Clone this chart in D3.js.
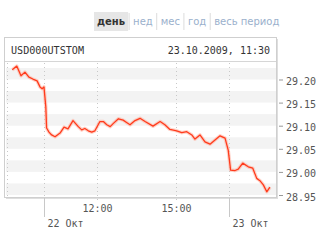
<!DOCTYPE html>
<html>
<head>
<meta charset="utf-8">
<script src="https://cdn.jsdelivr.net/npm/d3@7"></script>
<style>
body { margin: 0; background: #fff; }
svg { display: block; }
</style>
</head>
<body>
<div id="chart"></div>
<script>
// trading hours counted from the 22 Oct open (10:00)
var hours = [-1.22, -1.05, -0.89, -0.74, -0.59, -0.44, -0.28, -0.17, -0.09, -0.02,
  0.05, 0.08, 0.17, 0.27, 0.40, 0.59, 0.74, 0.89, 1.08, 1.28,
  1.41, 1.53, 1.66, 1.79, 1.91, 2.10, 2.23, 2.36, 2.49, 2.61,
  2.80, 2.98, 3.11, 3.24, 3.43, 3.62, 3.81, 4.11, 4.38, 4.56,
  4.75, 5.01, 5.20, 5.39, 5.58, 5.70, 5.89, 6.08, 6.27, 6.46,
  6.65, 6.84, 6.96, 7.05, 7.22, 7.34, 7.51, 7.72, 7.89, 8.04,
  8.16, 8.29, 8.42, 8.54];
var prices = [29.221, 29.229, 29.208, 29.216, 29.205, 29.201, 29.197, 29.184, 29.180, 29.184,
  29.141, 29.095, 29.086, 29.080, 29.076, 29.084, 29.097, 29.093, 29.111, 29.098,
  29.091, 29.094, 29.089, 29.086, 29.089, 29.109, 29.109, 29.102, 29.098, 29.105,
  29.115, 29.112, 29.107, 29.102, 29.111, 29.116, 29.109, 29.099, 29.109, 29.102,
  29.092, 29.089, 29.085, 29.087, 29.080, 29.071, 29.080, 29.065, 29.060, 29.069,
  29.078, 29.073, 29.047, 29.004, 29.003, 29.006, 29.019, 29.011, 29.008, 28.986,
  28.981, 28.972, 28.957, 28.967];

var xTickHours = [0, 2, 5, 7];
var xTickLabels = ["22 Окт", "12:00", "15:00", "23 Окт"];
var dayStart = [true, false, false, true];
var yTicks = [28.95, 29.00, 29.05, 29.10, 29.15, 29.20];
var tabs = ["день", "нед", "мес", "год", "весь период"];
var ticker = "USD000UTSTOM";
var stamp = "23.10.2009, 11:30";

var width = 320, height = 240;
var plot = {left: 6, right: 276, top: 63, bottom: 197};
var mono = "'DejaVu Sans Mono', monospace";

var svg = d3.select("#chart").append("svg")
  .attr("width", width).attr("height", height);

var xScale = d3.scaleLinear().domain([-1.458, 8.77]).range([plot.left, plot.right]);
var yScale = d3.scaleLinear().domain([28.9457, 29.2357]).range([plot.bottom, plot.top]);

// tabs
var tx = 97;
tabs.forEach(function (t, i) {
  var g = svg.append("g");
  var txt = g.append("text")
    .attr("x", tx).attr("y", 24.5)
    .attr("font-family", "'DejaVu Sans', sans-serif")
    .attr("font-size", 10)
    .attr("font-weight", i == 0 ? "bold" : "normal")
    .attr("fill", i == 0 ? "#333" : "#9ab0cc")
    .text(t);
  var w = txt.node().getComputedTextLength();
  if (i == 0) {
    g.insert("rect", "text")
      .attr("x", tx - 3).attr("y", 12).attr("width", w + 6).attr("height", 19)
      .attr("fill", "#e6e6e6");
  } else {
    svg.append("line")
      .attr("x1", tx - 4).attr("x2", tx - 4).attr("y1", 13).attr("y2", 30)
      .attr("stroke", "#dcdcdc");
  }
  tx += w + 8;
});

// box with shadow
svg.append("rect").attr("x", 6).attr("y", 39).attr("width", 272).attr("height", 160)
  .attr("fill", "#dedede");
svg.append("rect").attr("x", 4.5).attr("y", 37.5).attr("width", 272).attr("height", 160)
  .attr("fill", "#fff").attr("stroke", "#cfcfcf");

// stripes
yTicks.forEach(function (v) {
  var y0 = yScale(Math.min(v + 0.025, yScale.domain()[1]));
  var y1 = yScale(v);
  svg.append("rect")
    .attr("x", plot.left).attr("width", plot.right - plot.left)
    .attr("y", y0).attr("height", y1 - y0)
    .attr("fill", "#f3f3f3");
});

// header separator and texts
svg.append("line").attr("x1", 5).attr("x2", 276).attr("y1", 61.5).attr("y2", 61.5)
  .attr("stroke", "#d6d6d6");
svg.append("text").attr("x", 11).attr("y", 54)
  .attr("font-family", mono).attr("font-size", 10).attr("fill", "#333")
  .attr("textLength", 73).attr("lengthAdjust", "spacingAndGlyphs")
  .text(ticker);
svg.append("text").attr("x", 270).attr("y", 54).attr("text-anchor", "end")
  .attr("font-family", mono).attr("font-size", 10).attr("fill", "#333")
  .text(stamp);

// vertical grid
svg.append("line")
  .attr("x1", plot.left + 1.5).attr("x2", plot.left + 1.5)
  .attr("y1", plot.top).attr("y2", plot.bottom)
  .attr("stroke", "#c8c8c8").attr("stroke-dasharray", "1,3");
xTickHours.forEach(function (h, i) {
  var x = Math.round(xScale(h)) + 0.5;
  svg.append("line")
    .attr("x1", x).attr("x2", x).attr("y1", plot.top).attr("y2", plot.bottom + 4)
    .attr("stroke", "#c8c8c8").attr("stroke-dasharray", "1,3");
  if (dayStart[i]) {
    svg.append("line")
      .attr("x1", x).attr("x2", x).attr("y1", plot.bottom + 1).attr("y2", 217)
      .attr("stroke", "#c8c8c8");
    svg.append("text").attr("x", x + 3).attr("y", 227)
      .attr("font-family", mono).attr("font-size", 10).attr("fill", "#555")
      .text(xTickLabels[i]);
  } else {
    svg.append("text").attr("x", x).attr("y", 212).attr("text-anchor", "middle")
      .attr("font-family", mono).attr("font-size", 10).attr("fill", "#555")
      .text(xTickLabels[i]);
  }
});

// y axis on the right
var yAxis = d3.axisRight(yScale).tickValues(yTicks).tickSize(4).tickPadding(3)
  .tickFormat(d3.format(".2f"));
var ga = svg.append("g").attr("transform", "translate(279,0)").call(yAxis);
ga.select(".domain").remove();
ga.selectAll("line").attr("stroke", "#999");
ga.selectAll("text").attr("font-family", mono).attr("font-size", 10).attr("fill", "#555")
  .attr("dy", "0.5em");

// line
var pts = hours.map(function (h, i) { return [h, prices[i]]; });
var line = d3.line()
  .x(function (d) { return xScale(d[0]); })
  .y(function (d) { return yScale(d[1]); });
svg.append("path").datum(pts).attr("d", line)
  .attr("fill", "none").attr("stroke", "#ffb4a4").attr("stroke-width", 3.5)
  .attr("stroke-linejoin", "round").attr("opacity", 0.6);
svg.append("path").datum(pts).attr("d", line)
  .attr("fill", "none").attr("stroke", "#ff3b1c").attr("stroke-width", 1.3)
  .attr("stroke-linejoin", "round");
</script>
</body>
</html>
